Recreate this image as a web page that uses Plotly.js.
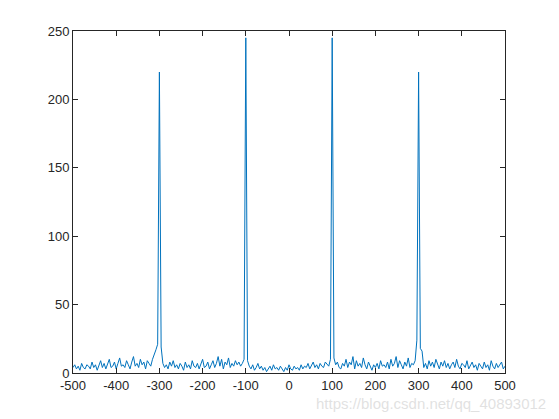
<!DOCTYPE html>
<html>
<head>
<meta charset="utf-8">
<script src="https://cdn.plot.ly/plotly-3.0.1.min.js"></script>
<style>html,body{margin:0;padding:0;background:#fff;}#chart{width:559px;height:419px;}</style>
</head>
<body>
<div id="chart"></div>
<script>
// Frequency axis: starts at -500, step 4 (given to Plotly as x0/dx)
var freqStart = -500;
var freqStep = 4;

// Magnitude values, by segment
var segA = [4,6,3,5,2,7,4,3,6,5,
            3,8,4,6,2,5,9,4,7,3,
            6,10,4,5,8,3,7,11,5,6,
            4,9,6,3,8,12,5,7,4,10,
            6,8,3,9,7,5,10,13,17,21];      // -500 .. -304
var peakM300 = [220];                       // -300
var segB = [19,7,4,6,3,8,5,9,4,6,
            3,7,5,2,8,4,6,3,9,5,
            4,7,3,6,10,4,5,8,3,6,
            9,4,7,12,5,10,3,8,6,11,
            4,7,5,9,6,8,5,7,10];           // -296 .. -104
var peakM100 = [245];                       // -100
var segC = [9,5,3,6,2,4,7,3,5,2,
            4,1,3,5,2,6,3,4,2,5,
            3,1,4,2,6,3,2,5,3,4,
            2,6,3,5,4,7,3,5,8,4,
            6,3,7,5,4,8,6,5,10];           // -96 .. 96
var peakP100 = [245];                       // 100
var segD = [11,6,8,4,3,7,5,10,4,8,
            6,12,3,9,5,7,4,11,6,3,
            8,5,2,6,4,7,3,9,5,6,
            4,8,3,10,5,7,12,4,9,6,
            3,8,5,11,4,7,6,9,24];          // 104 .. 296
var peakP300 = [220];                       // 300
var segE = [18,16,4,7,3,9,5,8,4,10,
            6,3,8,5,9,4,7,3,6,8,
            4,10,5,3,7,6,4,9,3,5,
            8,4,6,2,7,5,3,8,4,6,
            2,9,5,3,7,4,6,8,3,5];          // 304 .. 500

var magnitude = [].concat(segA, peakM300, segB, peakM100, segC, peakP100, segD, peakP300, segE);

var xTicks = [-500,-400,-300,-200,-100,0,100,200,300,400,500];
var yTicks = [0,50,100,150,200,250];

var axisColor = '#262626';
var fontFam = 'Liberation Sans, Arial, sans-serif';

var trace = {
  y: magnitude,
  x0: freqStart,
  dx: freqStep,
  type: 'scatter',
  mode: 'lines',
  line: {color: '#0072BD', width: 1},
  hoverinfo: 'none'
};

var layout = {
  width: 559, height: 419,
  margin: {l: 73, r: 54, t: 31, b: 46},
  paper_bgcolor: '#ffffff',
  plot_bgcolor: '#ffffff',
  showlegend: false,
  font: {family: fontFam, size: 13, color: axisColor},
  xaxis: {
    range: [-500, 500],
    tickvals: xTicks,
    ticktext: xTicks.map(String),
    ticks: 'inside', ticklen: 5, tickcolor: axisColor, tickwidth: 1,
    showline: true, linecolor: axisColor, linewidth: 1, mirror: 'ticks',
    showgrid: false, zeroline: false,
    tickfont: {family: fontFam, size: 13, color: axisColor}
  },
  yaxis: {
    range: [0, 250],
    tickvals: yTicks,
    ticktext: yTicks.map(String),
    ticks: 'inside', ticklen: 5, tickcolor: axisColor, tickwidth: 1,
    showline: true, linecolor: axisColor, linewidth: 1, mirror: 'ticks',
    showgrid: false, zeroline: false,
    tickfont: {family: fontFam, size: 13, color: axisColor}
  },
  annotations: [{
    text: 'https://blog.csdn.net/qq_40893012',
    xref: 'paper', yref: 'paper',
    x: 1.1, y: -0.09,
    xanchor: 'right', yanchor: 'middle',
    showarrow: false,
    font: {family: fontFam, size: 15, color: 'rgba(205,205,205,0.6)'}
  }]
};

Plotly.newPlot('chart', [trace], layout, {staticPlot: true, displayModeBar: false});
</script>
</body>
</html>
